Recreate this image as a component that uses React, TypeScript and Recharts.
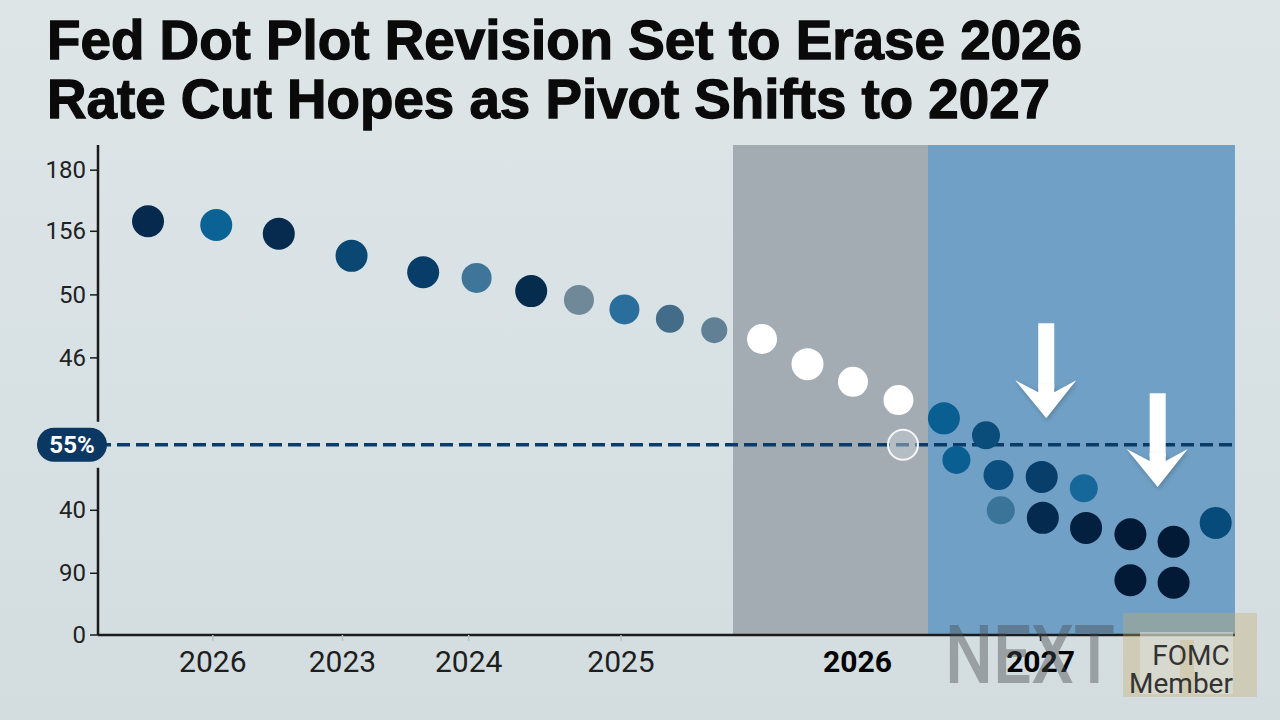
import React from 'react';
import { ScatterChart, Scatter, XAxis, YAxis, ReferenceArea, ReferenceLine } from 'recharts';

const BG = '#d6e0e3';
const INK = '#1b1b1b';
const FONT = 'Roboto, "Liberation Sans", Arial, sans-serif';

// timeline position (0-100) and projection level of each dot
const earlyX = [4.4, 10.4, 15.9, 22.3, 28.6, 33.3, 38.1, 42.3, 46.3, 50.3, 54.2];
const earlyY = [6.57, 6.51, 6.37, 6.02, 5.76, 5.67, 5.46, 5.32, 5.17, 5.02, 4.84];
const priorX = [58.4, 62.4, 66.4, 70.4];
const priorY = [4.7, 4.3, 4.02, 3.73];
const medianX = [70.8];
const medianY = [3.02];
const revisedX = [74.4, 78.1, 75.5, 79.2, 79.4, 83.0, 83.1, 86.7, 86.9, 90.8, 90.8, 94.6, 94.6, 98.3];
const revisedY = [3.44, 3.17, 2.78, 2.54, 1.98, 2.51, 1.86, 2.33, 1.7, 1.6, 0.87, 1.48, 0.83, 1.78];

const yTicks = [0, 0.98, 1.98, 3.02, 4.4, 5.4, 6.41, 7.38];
const yTickLabels = ['0', '90', '40', '55%', '46', '50', '156', '180'];
const xTicks = [10.1, 21.5, 32.6, 46.0, 66.8, 82.9];
const xTickLabels = ['2026', '2023', '2024', '2025', '2026', '2027'];

const medianLevel = 3.02;
const priorBand = [55.85, 73.0];
const revisedBand = [73.0, 100];

const arrowX = [83.4, 93.2];
const arrowTop = [4.95, 3.84];
const arrowBase = [3.92, 2.83];
const arrowTip = [3.44, 2.35];

// dot styling, by index
const earlyColors = ['#062a4d', '#0a6394', '#062b4f', '#0a4773', '#073d68', '#3f7599', '#052b4d', '#6f8999', '#2a6f9b', '#426c88', '#617f95'];
const earlyR = [16, 16, 16, 16, 16, 15, 16, 15, 15, 14, 13];
const priorR = [15, 16, 15, 15];
const revisedColors = ['#0a5f92', '#0a4d7a', '#0a5f92', '#0a4f80', '#3a7498', '#073f6a', '#042b4f', '#17689a', '#032040', '#021a35', '#021a35', '#021a35', '#021a35', '#074b7b'];
const revisedR = [16, 14, 14, 15, 14, 16, 16, 14, 16, 16, 16, 16, 16, 16];

const earlyData = earlyX.map((x, i) => ({ x, y: earlyY[i], i }));
const priorData = priorX.map((x, i) => ({ x, y: priorY[i], i }));
const medianData = medianX.map((x, i) => ({ x, y: medianY[i], i }));
const revisedData = revisedX.map((x, i) => ({ x, y: revisedY[i], i }));
const arrowData = arrowX.map((x, i) => ({ x, y: arrowTip[i], i }));

const findIdx = (arr: number[], v: number) => arr.findIndex((t) => Math.abs(t - v) < 1e-6);

function YTick({ x, y, payload }: any) {
  const label = yTickLabels[findIdx(yTicks, payload.value)];
  if (label === '55%') {
    return (
      <g>
        <rect x={x + 2} y={y - 23} width={14} height={46} fill={BG} />
        <rect x={x - 51} y={y - 17} width={70} height={34} rx={17} fill="#0b3862" />
        <text x={x - 16} y={y + 8} textAnchor="middle" fill="#fff" fontSize={24} fontWeight={700} fontFamily={FONT}>
          55%
        </text>
      </g>
    );
  }
  return (
    <text x={x - 2} y={y + 8} textAnchor="end" fill="#222" fontSize={24} fontFamily={FONT}>
      {label}
    </text>
  );
}

function XTick({ x, y, payload }: any) {
  const i = findIdx(xTicks, payload.value);
  const strong = i >= 4;
  return (
    <g>
      <line x1={x} x2={x} y1={y} y2={y + 6} stroke={i === 5 ? INK : i === 4 ? 'none' : '#b9c4c8'} strokeWidth={1.5} />
      <text x={x} y={y + 37} textAnchor="middle" fill={strong ? '#000' : '#1e1e1e'} fontSize={30} fontWeight={strong ? 700 : 400} fontFamily={FONT}>
        {xTickLabels[i]}
      </text>
    </g>
  );
}

export default function App() {
  return (
    <div style={{ position: 'absolute', left: 0, top: 0, width: 1280, height: 720, overflow: 'hidden', background: 'linear-gradient(#dde5e7, #d3dde0)' }}>
      <div style={{ position: 'absolute', left: 0, top: 0 }}>
        <ScatterChart width={1280} height={720} margin={{ top: 145, right: 45, bottom: 55, left: 38 }}>
          <XAxis
            type="number"
            dataKey="x"
            domain={[0, 100]}
            ticks={xTicks}
            height={30}
            tickSize={0}
            tickMargin={0}
            tickLine={false}
            tick={<XTick />}
            axisLine={{ stroke: INK, strokeWidth: 2.5 }}
            interval={0}
          />
          <YAxis
            type="number"
            dataKey="y"
            domain={[0, 7.78]}
            ticks={yTicks}
            width={60}
            tickSize={8}
            tickMargin={2}
            tickLine={{ stroke: INK, strokeWidth: 1.5 }}
            tick={<YTick />}
            axisLine={{ stroke: INK, strokeWidth: 2.5 }}
            interval={0}
          />
          <ReferenceArea x1={priorBand[0]} x2={priorBand[1]} y1={0} y2={7.78} fill="#a3abb3" fillOpacity={1} stroke="none" />
          <ReferenceArea x1={revisedBand[0]} x2={revisedBand[1]} y1={0} y2={7.78} fill="#70a0c5" fillOpacity={1} stroke="none" />
          <ReferenceLine y={medianLevel} stroke="#0b3c68" strokeWidth={3.5} strokeDasharray="13 6" />
          {arrowX.map((x, i) => (
            <ReferenceLine
              key={i}
              segment={[{ x, y: arrowTop[i] }, { x, y: arrowBase[i] }]}
              stroke="#ffffff"
              strokeWidth={16}
            />
          ))}
          <Scatter
            data={earlyData}
            isAnimationActive={false}
            shape={(p: any) => <circle cx={p.cx} cy={p.cy} r={earlyR[p.payload.i]} fill={earlyColors[p.payload.i]} />}
          />
          <Scatter
            data={priorData}
            isAnimationActive={false}
            shape={(p: any) => <circle cx={p.cx} cy={p.cy} r={priorR[p.payload.i]} fill="#ffffff" />}
          />
          <Scatter
            data={medianData}
            isAnimationActive={false}
            shape={(p: any) => (
              <circle cx={p.cx} cy={p.cy} r={15} fill="rgba(200,210,214,0.45)" stroke="#f4f6f7" strokeWidth={2} />
            )}
          />
          <Scatter
            data={revisedData}
            isAnimationActive={false}
            shape={(p: any) => <circle cx={p.cx} cy={p.cy} r={revisedR[p.payload.i]} fill={revisedColors[p.payload.i]} />}
          />
          <Scatter
            data={arrowData}
            isAnimationActive={false}
            shape={(p: any) => (
              <polygon
                transform={`translate(${p.cx},${p.cy})`}
                points="0,0 30,-38 8,-26 8,-34 -8,-34 -8,-26 -31,-38"
                fill="#ffffff"
                style={{ filter: 'drop-shadow(1px 2px 2px rgba(0,0,0,0.2))' }}
              />
            )}
          />
        </ScatterChart>
      </div>
      <svg width={1280} height={720} style={{ position: 'absolute', left: 0, top: 0, pointerEvents: 'none' }}>
        <text x={47} y={59} textLength={1035} lengthAdjust="spacingAndGlyphs" fontSize={56} fontWeight={700} fill="#0a0a0a" stroke="#0a0a0a" strokeWidth={1.3} fontFamily='"Liberation Sans", Arial, sans-serif'>
          Fed Dot Plot Revision Set to Erase 2026
        </text>
        <text x={47} y={118} textLength={1003} lengthAdjust="spacingAndGlyphs" fontSize={56} fontWeight={700} fill="#0a0a0a" stroke="#0a0a0a" strokeWidth={1.3} fontFamily='"Liberation Sans", Arial, sans-serif'>
          Rate Cut Hopes as Pivot Shifts to 2027
        </text>
        {/* watermark */}
        <text x={945} y={683} textLength={170} lengthAdjust="spacingAndGlyphs" fontSize={82} fontWeight={500} fill="rgba(70,74,78,0.42)" fontFamily={FONT}>
          NEXT
        </text>
        <rect x={1123} y={613} width={134} height={84} fill="rgba(196,172,108,0.36)" />
        <rect x={1140} y={632} width={93} height={62} fill="rgba(222,228,226,0.55)" />
        <rect x={1180} y={640} width={14} height={54} fill="rgba(196,172,108,0.3)" />
        <text x={1191} y={665} textAnchor="middle" fontSize={28} fill="#333" fontFamily={FONT}>
          FOMC
        </text>
        <text x={1181} y={693} textAnchor="middle" fontSize={28} fill="#333" fontFamily={FONT}>
          Member
        </text>
      </svg>
    </div>
  );
}
